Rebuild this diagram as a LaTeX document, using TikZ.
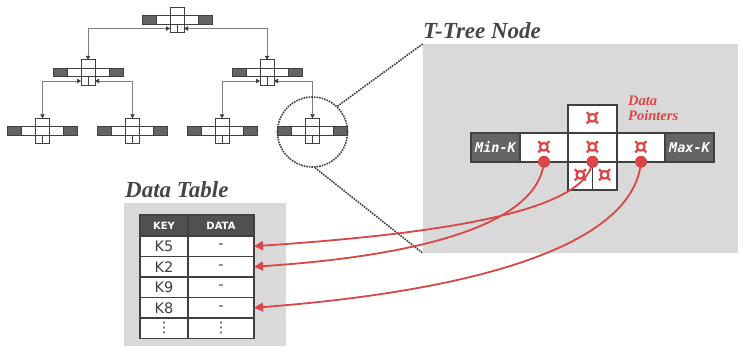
\documentclass[tikz,border=0pt]{standalone}
\usepackage{fontspec}
\newfontfamily\symfont{DejaVu Sans}
\newfontfamily\keyfont{DejaVu Sans}
\newfontfamily\kmonofont{DejaVu Sans Mono}
\newfontfamily\headfont{Liberation Serif}
\usetikzlibrary{arrows.meta,positioning}
\definecolor{DarkLine}{RGB}{64,64,64}
\definecolor{KeyGray}{RGB}{100,100,100}
\definecolor{HeadGray}{RGB}{80,80,80}
\definecolor{BoxGray}{RGB}{217,217,217}
\definecolor{PtrRed}{RGB}{219,69,69}
\definecolor{TitleGray}{RGB}{70,70,70}
\tikzset{
  tcell/.style={draw=DarkLine,fill=white,line width=0.8pt,minimum width=14pt,
    minimum height=8.5pt,inner sep=0pt,outer sep=0pt},
  tkey/.style={tcell,fill=KeyGray},
  thalf/.style={tcell,minimum width=7pt},
  treearrow/.style={{Triangle[length=4pt,width=4.5pt,color=DarkLine]}-{Triangle[length=4pt,width=4.5pt,color=DarkLine]},
    draw=gray,line width=0.8pt},
  bcell/.style={draw=DarkLine,fill=white,line width=1.6pt,minimum width=48.5pt,
    minimum height=28.5pt,inner sep=0pt,outer sep=0pt,text=PtrRed,
    font=\symfont\bfseries\fontsize{23}{23}\selectfont},
  bkey/.style={bcell,fill=KeyGray,text=white,
    font=\kmonofont\bfseries\itshape\fontsize{13.5}{13.5}\selectfont},
  bhalf/.style={bcell,minimum width=24.25pt},
  ptrdot/.style={circle,fill=PtrRed,minimum size=12pt,inner sep=0pt},
  ptrline/.style={-{Triangle[length=9pt,width=9pt]},draw=PtrRed,line width=1.8pt},
  graybox/.style={fill=BoxGray,inner sep=0pt},
  title/.style={text=TitleGray,font=\headfont\bfseries\itshape\fontsize{23}{23}\selectfont,inner sep=0pt},
  zoomline/.style={draw=DarkLine,line width=1.6pt,densely dotted},
  hcell/.style={draw=DarkLine,fill=HeadGray,text=white,line width=1.5pt,minimum height=21pt,
    inner sep=0pt,outer sep=0pt,font=\keyfont\bfseries\fontsize{10}{10}\selectfont},
  rcell/.style={draw=DarkLine,fill=white,text=DarkLine,line width=1.5pt,minimum height=20.5pt,
    inner sep=0pt,outer sep=0pt,font=\keyfont\fontsize{14.5}{14.5}\selectfont},
  keycol/.style={minimum width=48pt},
  datacol/.style={minimum width=66pt}
}
% one small node of the tree
\newcommand{\tnode}[3]{%
  \node[tcell] (#1-m) at (#2,#3) {};
  \node[tcell,left=of #1-m] (#1-l) {};
  \node[tkey,left=of #1-l] (#1-lk) {};
  \node[tcell,right=of #1-m] (#1-r) {};
  \node[tkey,right=of #1-r] (#1-rk) {};
  \node[tcell,above=of #1-m] (#1-t) {};
  \node[thalf,anchor=north west] (#1-bl) at (#1-m.south west) {};
  \node[thalf,anchor=north east] (#1-br) at (#1-m.south east) {};
}
\begin{document}
\begin{tikzpicture}[x=1pt,y=-1pt,node distance=0pt]
  \useasboundingbox (0,0) rectangle (742,346);
  % backgrounds
  \node[graybox,minimum width=315pt,minimum height=209pt] (ttbox) at (580.5,148.5) {};
  \node[graybox,minimum width=162pt,minimum height=143pt] (databox) at (205,274.5) {};
  \node[title,anchor=base west] (tttitle) at (423,38) {T-Tree Node};
  \node[title,anchor=base west] (dttitle) at (125,197) {Data Table};

  % the tree
  \tnode{root}{177}{20}
  \tnode{ml}{88}{72.5}
  \tnode{mr}{267}{72.5}
  \tnode{b1}{42.5}{131}
  \tnode{b2}{132.5}{131}
  \tnode{b3}{222}{131}
  \tnode{b4}{312.5}{131}
  \draw[treearrow] (root-bl.west) -| (ml-t.north);
  \draw[treearrow] (root-br.east) -| (mr-t.north);
  \draw[treearrow] (ml-bl.west) -| (b1-t.north);
  \draw[treearrow] (ml-br.east) -| (b2-t.north);
  \draw[treearrow] (mr-bl.west) -| (b3-t.north);
  \draw[treearrow] (mr-br.east) -| (b4-t.north);

  % zoom on one node
  \node[circle,zoomline,minimum size=70pt] (zoomc) at (312.5,132) {};
  \draw[zoomline] (zoomc.46) -- (ttbox.north west);
  \draw[zoomline] (zoomc.-86) -- (ttbox.south west);

  % big T-tree node
  \node[bcell] (ttm) at (592.5,147.5) {¤};
  \node[bcell,left=of ttm] (ttl) {¤};
  \node[bkey,left=of ttl] (ttlk) {Min-K};
  \node[bcell,right=of ttm] (ttr) {¤};
  \node[bkey,right=of ttr] (ttrk) {Max-K};
  \node[bcell,above=of ttm] (ttt) {¤};
  \node[bhalf,anchor=north west] (ttbl) at (ttm.south west) {¤};
  \node[bhalf,anchor=north east] (ttbr) at (ttm.south east) {¤};
  \node[anchor=north west,align=left,inner sep=0pt,text=PtrRed,
    font=\headfont\bfseries\itshape\fontsize{14.5}{15}\selectfont] (ptrlabel) at (628,96) {Data\\Pointers};

  % data table
  \node[hcell,keycol] (hkey) at (164,225.5) {KEY};
  \node[hcell,datacol,right=of hkey] (hdata) {DATA};
  \node[rcell,keycol,below=of hkey] (k5) {K5};
  \node[rcell,datacol,right=of k5] (k5d) {-};
  \node[rcell,keycol,below=of k5] (k2) {K2};
  \node[rcell,datacol,right=of k2] (k2d) {-};
  \node[rcell,keycol,below=of k2] (k9) {K9};
  \node[rcell,datacol,right=of k9] (k9d) {-};
  \node[rcell,keycol,below=of k9] (k8) {K8};
  \node[rcell,datacol,right=of k8] (k8d) {-};
  \node[rcell,keycol,below=of k8] (kx) {⋮};
  \node[rcell,datacol,right=of kx] (kxd) {⋮};

  % pointers into the table
  \draw[ptrline] (ttm.south) .. controls (585,215) and (420,235) .. (k5d.east);
  \draw[ptrline] (ttl.south) .. controls (538,222) and (430,255) .. (k2d.east);
  \draw[ptrline] (ttr.south) .. controls (633,250) and (460,292) .. (k8d.east);
  \node[ptrdot] (dotl) at (ttl.south) {};
  \node[ptrdot] (dotm) at (ttm.south) {};
  \node[ptrdot] (dotr) at (ttr.south) {};
\end{tikzpicture}
\end{document}
